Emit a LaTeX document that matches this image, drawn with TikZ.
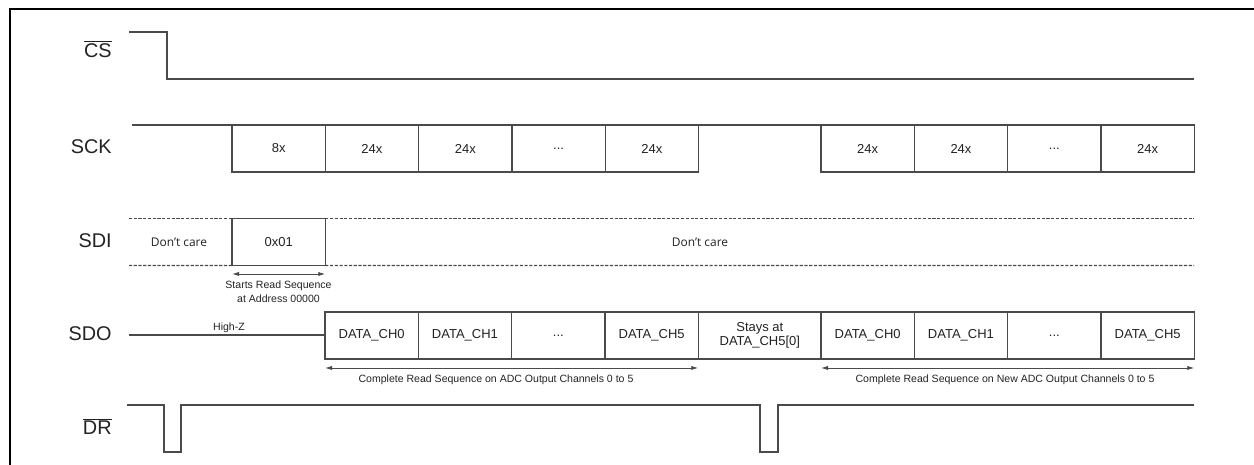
\documentclass[tikz,border=0pt]{standalone}
\usepackage{fontspec}
\setmainfont{Liberation Sans}
\newfontfamily\carefont{Open Sans}
\usetikzlibrary{arrows.meta}
\definecolor{wave}{HTML}{4A4A4A}
\definecolor{ink}{HTML}{222222}
\newcommand\skipdots{...}
\tikzset{
  sig/.style={font=\fontsize{11.3}{13}\selectfont, text=ink, anchor=base east, inner sep=0pt},
  slotbox/.style={draw=wave, line width=0.6pt, minimum width=1.866cm, minimum height=0.94cm,
    inner sep=0pt, outer sep=0pt, anchor=north west, align=center,
    font=\fontsize{7.4}{8}\selectfont, text=ink},
  note/.style={font=\fontsize{6}{7.9}\selectfont, text=ink, align=center, inner sep=0pt},
  care/.style={font=\carefont\fontsize{6.8}{8}\selectfont, text=ink, inner sep=0pt},
  dashline/.style={wave, line width=0.6pt, dash pattern=on 1.8pt off 0.9pt},
  span/.style={{Latex[length=4pt,width=2.4pt]}-{Latex[length=4pt,width=2.4pt]}, wave, line width=0.5pt},
}
\begin{document}
\begin{tikzpicture}[x=0.02cm, y=-0.02cm]
  \useasboundingbox (0,0) rectangle (1254,465);
  % frame
  \draw[black, line width=1.3pt] (10,465) -- (10,9) -- (1254,9);

  % signal names
  \node[sig] (lcs)  at (112,58)  {$\overline{\mbox{CS}}$};
  \node[sig] (lsck) at (112,154) {SCK};
  \node[sig] (lsdi) at (112,248) {SDI};
  \node[sig] (lsdo) at (112,341) {SDO};
  \node[sig] (ldr)  at (112,435) {$\overline{\mbox{DR}}$};

  % CS
  \draw[wave, line width=0.6pt] (129,32) -- (167,32) -- (167,79) -- (1194,79);

  % SCK
  \draw[wave, line width=0.6pt] (132,125) -- (1194,125);
  \foreach \k/\t in {0/8x, 1/24x, 2/24x, 3/\skipdots, 4/24x}
    \node[slotbox] (sck\k) at (232+93.33*\k,125) {\t};
  \foreach \k/\t in {0/24x, 1/24x, 2/\skipdots, 3/24x}
    \node[slotbox] (sckb\k) at (821+93.33*\k,125) {\t};

  % SDI
  \node[slotbox] (cmd) at (232,218.5) {0x01};
  \draw[dashline] (129,218.5) -- (cmd.north west) (cmd.north east) -- (1194,218.5);
  \draw[dashline] (129,265.5) -- (cmd.south west) (cmd.south east) -- (1194,265.5);
  \node[care] (dcl) at (179,242) {Don’t care};
  \node[care] (dcr) at (700,242) {Don’t care};
  \draw[span] ([yshift=-0.17cm]cmd.south west) -- ([yshift=-0.17cm]cmd.south east);
  \node[note] (start) at (278.5,292) {Starts Read Sequence\\at Address 00000};

  % SDO
  \draw[wave, line width=0.6pt] (129,335) -- (325,335);
  \node[note, anchor=base] (hiz) at (229,331) {High-Z};
  \foreach \k/\t in {0/DATA\_CH0, 1/DATA\_CH1, 2/\skipdots, 3/DATA\_CH5}
    \node[slotbox] (sdo\k) at (325+93.33*\k,312) {\t};
  \node[slotbox, minimum width=2.446cm] (stay) at (698.7,312) {Stays at\\DATA\_CH5[0]};
  \foreach \k/\t in {0/DATA\_CH0, 1/DATA\_CH1, 2/\skipdots, 3/DATA\_CH5}
    \node[slotbox] (sdob\k) at (821+93.33*\k,312) {\t};
  \draw[span] ([yshift=-0.18cm]sdo0.south west) -- ([yshift=-0.18cm]sdo3.south east);
  \draw[span] ([yshift=-0.18cm]sdob0.south west) -- ([yshift=-0.18cm]sdob3.south east);
  \node[note] (seqa) at (496,380) {Complete Read Sequence on ADC Output Channels 0 to 5};
  \node[note] (seqb) at (1005,380) {Complete Read Sequence on New ADC Output Channels 0 to 5};

  % DR
  \draw[wave, line width=0.6pt] (127,405) -- (164,405) -- (164,452) -- (181,452) -- (181,405)
    -- (760,405) -- (760,452) -- (778,452) -- (778,405) -- (1194,405);
\end{tikzpicture}
\end{document}
